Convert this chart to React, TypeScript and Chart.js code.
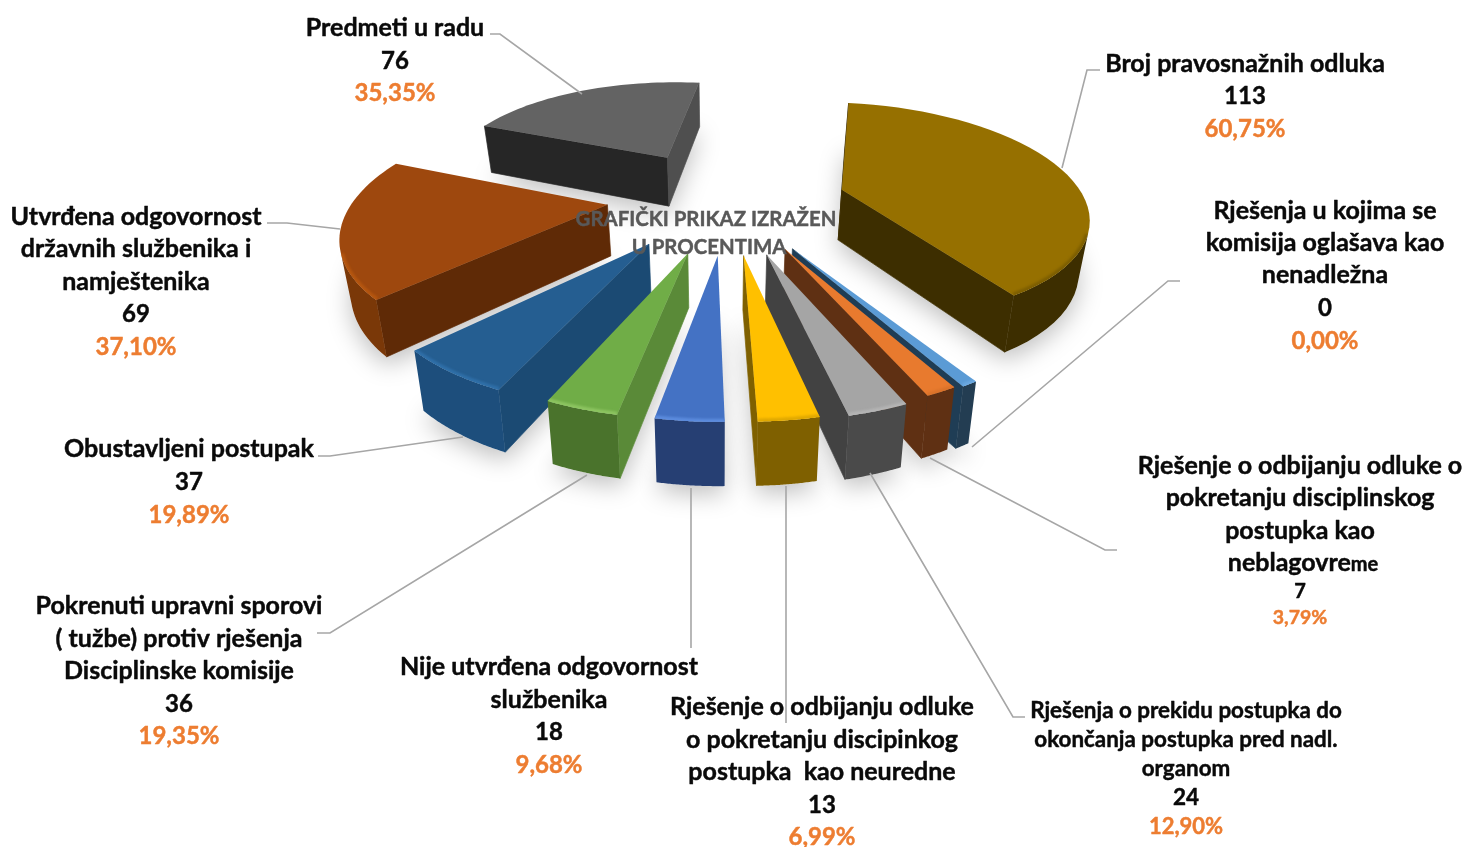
import React, { useEffect, useRef } from "react";
import { Chart, registerables } from "chart.js";

Chart.register(...registerables);

// ---- data ----
const categories = [
  "Broj pravosnažnih odluka",
  "Rješenja u kojima se komisija oglašava kao nenadležna",
  "Rješenje o odbijanju odluke o pokretanju disciplinskog postupka kao neblagovreme",
  "Rješenja o prekidu postupka do okončanja postupka pred nadl. organom",
  "Rješenje o odbijanju odluke o pokretanju discipinkog postupka kao neuredne",
  "Nije utvrđena odgovornost službenika",
  "Pokrenuti upravni sporovi ( tužbe) protiv rješenja Disciplinske komisije",
  "Obustavljeni postupak",
  "Utvrđena odgovornost državnih službenika i namještenika",
  "Predmeti u radu",
];
const values = [113, 0, 7, 24, 13, 18, 36, 37, 69, 76];
const percents = ["60,75%", "0,00%", "3,79%", "12,90%", "6,99%", "9,68%", "19,35%", "19,89%", "37,10%", "35,35%"];
// drawn size of each slice as seen in the picture, in degrees (the printed labels do not match the drawn angles)
const drawnShares = [141, 3, 5.7, 10.8, 10.7, 12, 13, 21.3, 67.5, 75];
const titleLines = ["GRAFIČKI PRIKAZ IZRAŽEN", "U PROCENTIMA"];

// ---- styles ----
const explode = [52, 42, 42, 42, 42, 41, 41, 42, 47, 56];
const nudgeU = [0.004, 0.065, 0.065, 0.05, 0.04, 0.025, 0, -0.035, 0, 0.045];
const nudgeV = [-0.05, -0.01, -0.02, 0, -0.01, 0, 0, -0.03, -0.11, 0];
const radiusScale = [1, 1, 1, 1, 1, 1, 1, 1.02, 1.05, 0.96];
const topColors = ["#967000", "#5B9BD5", "#E87A2E", "#A5A5A5", "#FFC000", "#4472C4", "#70AD47", "#255E91", "#9E480E", "#636363"];
const startWall = ["#3D2E00", "#1F3D55", "#5F3013", "#424242", "#7F6000", "#263F73", "#5A8A38", "#1B4A73", "#5F2A06", "#262626"];
const endWall = ["#3D2E00", "#1F3D55", "#5F3013", "#424242", "#7F6000", "#263F73", "#5A8A38", "#1B4A73", "#5F2A06", "#4F4F4F"];
const arcWall = ["#3D2E00", "#233D52", "#5F3013", "#4A4A4A", "#7F6000", "#263F73", "#4A732C", "#1D4E7C", "#7A3808", "#3A3A3A"];
const rimColors = ["#7D5E00", "#6AA8E0", "#D9722A", "#B4B4B4", "#E0A800", "#5B8BDD", "#8CC460", "#2F6FA8", "#B5560F", "#707070"];

const GEO = { cx: 720, cy: 218, a: 250, b: 115, k: 0.2, cv: -0.1, depth: 52, shrink: 0.97 };

function top(u: number, v: number) {
  const vv = v + GEO.cv;
  const w = 1 - GEO.k * vv;
  return [GEO.cx + (GEO.a * u) / w, GEO.cy + (GEO.b * vv) / w];
}
function bottom(u: number, v: number) {
  const vv = v + GEO.cv;
  const w = 1 - GEO.k * vv;
  return [GEO.cx + (GEO.shrink * GEO.a * u) / w, GEO.cy + (GEO.shrink * GEO.b * vv + GEO.depth) / w];
}
function poly(ctx: CanvasRenderingContext2D, pts: number[][]) {
  ctx.beginPath();
  pts.forEach((p, i) => (i ? ctx.lineTo(p[0], p[1]) : ctx.moveTo(p[0], p[1])));
  ctx.closePath();
}
function area(pts: number[][]) {
  let s = 0;
  for (let i = 0; i < pts.length; i++) {
    const p = pts[i];
    const q = pts[(i + 1) % pts.length];
    s += p[0] * q[1] - q[0] * p[1];
  }
  return s / 2;
}

const pie3d = {
  id: "pie3d",
  beforeDatasetDraw: () => false,
  afterDatasetsDraw(chart: any) {
    const ctx: CanvasRenderingContext2D = chart.ctx;
    const meta = chart.getDatasetMeta(0);
    const slices = meta.data.map((el: any, i: number) => {
      const mid = (el.startAngle + el.endAngle) / 2;
      const e = el.options.offset / 100;
      const ou = Math.cos(mid) * e + nudgeU[i];
      const ov = Math.sin(mid) * e + nudgeV[i];
      const world: number[][] = [];
      const steps = 40;
      const r = radiusScale[i];
      for (let s = 0; s <= steps; s++) {
        const t = el.startAngle + ((el.endAngle - el.startAngle) * s) / steps;
        world.push([ou + r * Math.cos(t), ov + r * Math.sin(t)]);
      }
      return { i, ou, ov, world };
    });
    slices.sort((p: any, q: any) => p.ov - q.ov);

    // soft floor shadow
    ctx.save();
    ctx.shadowColor = "rgba(0,0,0,0.25)";
    ctx.shadowBlur = 24;
    ctx.shadowOffsetY = 8;
    ctx.fillStyle = "#ffffff";
    slices.forEach((s: any) => {
      poly(ctx, [bottom(s.ou, s.ov), ...s.world.map((p: number[]) => bottom(p[0], p[1]))]);
      ctx.fill();
    });
    ctx.restore();

    slices.forEach((s: any) => {
      const apexT = top(s.ou, s.ov);
      const apexB = bottom(s.ou, s.ov);
      const arcT = s.world.map((p: number[]) => top(p[0], p[1]));
      const arcB = s.world.map((p: number[]) => bottom(p[0], p[1]));
      const n = arcT.length - 1;
      const face = (pts: number[][], color: string) => {
        if (area(pts) <= 0) return; // faces turned away are not seen
        poly(ctx, pts);
        ctx.fillStyle = color;
        ctx.strokeStyle = color;
        ctx.lineWidth = 0.7;
        ctx.fill();
        ctx.stroke();
      };
      face([apexT, apexB, arcB[0], arcT[0]], startWall[s.i]);
      face([arcT[n], arcB[n], apexB, apexT], endWall[s.i]);

      // the outer wall: one shape over the segments that face the viewer
      const seen: number[] = [];
      for (let j = 0; j < n; j++) if (area([arcT[j], arcB[j], arcB[j + 1], arcT[j + 1]]) > 0) seen.push(j);
      const run: number[][] = [];
      const runB: number[][] = [];
      if (seen.length) {
        for (let j = seen[0]; j <= seen[seen.length - 1] + 1; j++) {
          run.push(arcT[j]);
          runB.unshift(arcB[j]);
        }
        poly(ctx, [...run, ...runB]);
        ctx.fillStyle = arcWall[s.i];
        ctx.fill();
      }

      poly(ctx, [apexT, ...arcT]);
      ctx.fillStyle = topColors[s.i];
      ctx.fill();

      // soft rim bevel along the same segments
      if (run.length) {
        ctx.save();
        poly(ctx, [apexT, ...arcT]);
        ctx.clip();
        ctx.filter = "blur(0.8px)";
        ctx.strokeStyle = rimColors[s.i];
        ctx.lineWidth = 6;
        ctx.lineJoin = "round";
        ctx.beginPath();
        run.forEach((p, k) => (k ? ctx.lineTo(p[0], p[1]) : ctx.moveTo(p[0], p[1])));
        ctx.stroke();
        ctx.restore();
      }
    });
  },
};

// ---- labels ----
const FONT = "Lato, 'Noto Sans', sans-serif";
const BLACK = "#0a0a0a";
const ORANGE = "#ED7D31";
type Lbl = { i: number; x: number; ys: number[]; lines: string[]; size?: number; sizeVal?: number; sizePct?: number };
const labelLayout: Lbl[] = [
  { i: 9, x: 395, ys: [28, 61, 93], lines: ["Predmeti u radu"] },
  { i: 0, x: 1245, ys: [64, 96, 129], lines: ["Broj pravosnažnih odluka"] },
  { i: 1, x: 1325, ys: [211, 243, 275, 308, 341], lines: ["Rješenja u kojima se", "komisija oglašava kao", "nenadležna"] },
  { i: 2, x: 1300, ys: [466, 498, 531, 563, 592, 618], lines: ["Rješenje o odbijanju odluke o", "pokretanju disciplinskog", "postupka kao", "neblagovre|me"], sizeVal: 20, sizePct: 19.5 },
  { i: 3, x: 1186, ys: [711, 740, 769, 798, 827], lines: ["Rješenja o prekidu postupka do", "okončanja postupka pred nadl.", "organom"], size: 22.4, sizeVal: 22.5, sizePct: 22 },
  { i: 4, x: 822, ys: [707, 740, 772, 805, 837], lines: ["Rješenje o odbijanju odluke", "o pokretanju discipinkog", "postupka  kao neuredne"] },
  { i: 5, x: 549, ys: [667, 700, 732, 765], lines: ["Nije utvrđena odgovornost", "službenika"] },
  { i: 6, x: 179, ys: [606, 639, 671, 704, 736], lines: ["Pokrenuti upravni sporovi", "( tužbe) protiv rješenja", "Disciplinske komisije"] },
  { i: 7, x: 189, ys: [449, 482, 515], lines: ["Obustavljeni postupak"] },
  { i: 8, x: 136, ys: [217, 249, 282, 314, 347], lines: ["Utvrđena odgovornost", "državnih službenika i", "namještenika"] },
];
const leaders = [
  [[490, 34], [500, 34], [582, 94]],
  [[1100, 70], [1087, 70], [1062, 168]],
  [[1180, 281], [1168, 281], [972, 447]],
  [[1117, 550], [1105, 550], [930, 458]],
  [[1025, 717], [1013, 717], [870, 473]],
  [[786, 723], [786, 486]],
  [[691, 648], [691, 488]],
  [[317, 633], [330, 633], [587, 475]],
  [[318, 456], [330, 456], [463, 437]],
  [[267, 223], [287, 223], [340, 229]],
];

const labelsPlugin = {
  id: "labels",
  afterDraw(chart: any) {
    const ctx: CanvasRenderingContext2D = chart.ctx;
    ctx.save();
    ctx.strokeStyle = "#A6A6A6";
    ctx.lineWidth = 1.6;
    leaders.forEach((l) => {
      ctx.beginPath();
      l.forEach((p, i) => (i ? ctx.lineTo(p[0], p[1]) : ctx.moveTo(p[0], p[1])));
      ctx.stroke();
    });
    ctx.textBaseline = "middle";
    ctx.textAlign = "center";
    ctx.lineJoin = "round";
    ctx.lineWidth = 0.45;
    const put = (t: string, x: number, y: number, color: string) => {
      ctx.fillStyle = color;
      ctx.strokeStyle = color;
      ctx.fillText(t, x, y);
      ctx.strokeText(t, x, y);
    };
    const S = 25;
    const SV = 24;
    labelLayout.forEach((l) => {
      const size = l.size ?? S;
      l.lines.forEach((t, k) => {
        if (t.includes("|")) {
          const [big, small] = t.split("|");
          ctx.font = `bold ${size}px ${FONT}`;
          const wb = ctx.measureText(big).width;
          ctx.font = `bold ${size - 5}px ${FONT}`;
          const ws = ctx.measureText(small).width;
          const x0 = l.x - (wb + ws) / 2 + 3;
          ctx.textAlign = "left";
          ctx.font = `bold ${size}px ${FONT}`;
          put(big, x0, l.ys[k], BLACK);
          ctx.font = `bold ${size - 5}px ${FONT}`;
          put(small, x0 + wb, l.ys[k] + 2, BLACK);
          ctx.textAlign = "center";
        } else {
          ctx.font = `bold ${size}px ${FONT}`;
          put(t, l.x, l.ys[k], BLACK);
        }
      });
      const n = l.lines.length;
      ctx.font = `bold ${l.sizeVal ?? SV}px ${FONT}`;
      put(String(values[l.i]), l.x, l.ys[n], BLACK);
      ctx.font = `bold ${l.sizePct ?? SV}px ${FONT}`;
      put(percents[l.i], l.x, l.ys[n + 1], ORANGE);
    });
    ctx.font = `bold 20.4px ${FONT}`;
    put(titleLines[0], 706, 219, "#595959");
    put(titleLines[1], 709, 247, "#595959");
    ctx.restore();
  },
};

export default function App() {
  const ref = useRef<HTMLCanvasElement>(null);
  useEffect(() => {
    document.body.style.margin = "0";
    document.body.style.background = "#ffffff";
    const chart = new Chart(ref.current as HTMLCanvasElement, {
      type: "pie",
      data: {
        labels: categories,
        datasets: [{ data: drawnShares, backgroundColor: topColors, offset: explode, borderWidth: 0 }],
      },
      options: {
        responsive: false,
        animation: false,
        rotation: 7.5,
        plugins: { legend: { display: false }, tooltip: { enabled: false }, title: { display: false } },
      },
      plugins: [pie3d, labelsPlugin],
    } as any);
    return () => chart.destroy();
  }, []);
  return <canvas ref={ref} width={1469} height={847} style={{ display: "block" }} />;
}
